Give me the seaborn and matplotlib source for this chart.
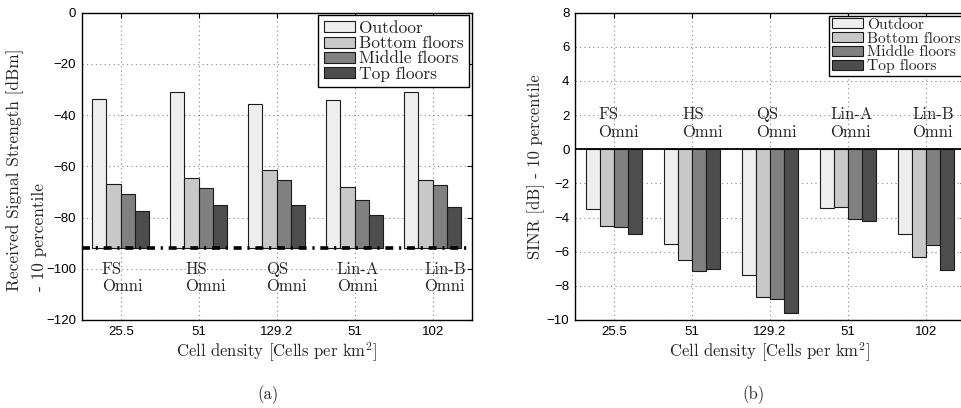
import numpy as np
import pandas as pd
import matplotlib
matplotlib.use("Agg")
import matplotlib.pyplot as plt
import seaborn as sns

# ---- data -------------------------------------------------------------
sites = ["FS", "HS", "QS", "Lin-A", "Lin-B"]
density_labels = ["25.5", "51", "129.2", "51", "102"]
environments = ["Outdoor", "Bottom floors", "Middle floors", "Top floors"]

# Received signal strength, 10th percentile [dBm]
rss_outdoor = [-33.7, -31.1, -35.5, -34.2, -31.1]
rss_bottom = [-67.0, -64.7, -61.6, -68.1, -65.5]
rss_middle = [-70.9, -68.5, -65.3, -73.1, -67.4]
rss_top = [-77.3, -75.2, -75.2, -78.9, -76.0]
rss_floor = -92.0  # reference level the bars rise from

# SINR, 10th percentile [dB]
sinr_outdoor = [-3.52, -5.57, -7.38, -3.46, -4.98]
sinr_bottom = [-4.49, -6.46, -8.67, -3.38, -6.33]
sinr_middle = [-4.53, -7.13, -8.75, -4.10, -5.61]
sinr_top = [-4.96, -7.01, -9.61, -4.22, -7.09]

# ---- styling ----------------------------------------------------------
sns.set_style("white")
plt.rcParams["font.family"] = ["Liberation Sans", "DejaVu Sans"]
plt.rcParams["mathtext.fontset"] = "cm"
SERIF = ["cmr10", "DejaVu Serif"]
palette = ["#eeeeee", "#c8c8c8", "#808080", "#4d4d4d"]


def long_frame(series):
    rows = []
    for env, vals in zip(environments, series):
        for s, v in zip(sites, vals):
            rows.append({"site": s, "env": env, "value": v})
    return pd.DataFrame(rows)


rss_df = long_frame([rss_outdoor, rss_bottom, rss_middle, rss_top])
sinr_df = long_frame([sinr_outdoor, sinr_bottom, sinr_middle, sinr_top])

fig = plt.figure(figsize=(9.61, 4.08), dpi=100)
ax_a = fig.add_axes([81.7 / 961, 88 / 408, 390 / 961, 307.3 / 408])
ax_b = fig.add_axes([575 / 961, 88 / 408, 390 / 961, 307.3 / 408])


def draw_panel(ax, df, ylim, yticks):
    sns.barplot(data=df, x="site", y="value", hue="env", order=sites,
                hue_order=environments, palette=palette, width=0.73,
                edgecolor="#1a1a1a", linewidth=0.8, errorbar=None,
                saturation=1, ax=ax)
    ax.set_xlim(-0.5, len(sites) - 0.5)
    ax.set_ylim(*ylim)
    ax.set_yticks(yticks)
    ax.set_xticks(range(len(sites)))
    ax.set_xticklabels(density_labels)
    ax.set_axisbelow(True)
    ax.grid(True, linestyle=(0, (1, 3)), color="#888888", linewidth=0.8)
    ax.tick_params(direction="in", length=3.5, width=0.8, top=True,
                   right=True, labelsize=9.5, pad=4, colors="black")
    for sp in ax.spines.values():
        sp.set_visible(True)
        sp.set_color("black")
        sp.set_linewidth(1.0)
    ax.set_xlabel("Cell density [Cells per km$^2$]", family=SERIF,
                  fontsize=12, labelpad=2)


legend_kw = dict(title=None, frameon=True, fancybox=False,
                 edgecolor="black", framealpha=1)

# ---- panel (a) --------------------------------------------------------
draw_panel(ax_a, rss_df, (-120, 0), np.arange(-120, 1, 20))
for cont, vals in zip(ax_a.containers,
                      [rss_outdoor, rss_bottom, rss_middle, rss_top]):
    for rect, v in zip(cont, vals):
        rect.set_y(rss_floor)
        rect.set_height(v - rss_floor)
ax_a.axhline(rss_floor, color="black", linewidth=2.6,
             linestyle=(0, (2.2, 1.6, 0.6, 1.6)), zorder=5)
ax_a.set_ylabel("Received Signal Strength [dBm]\n- 10 percentile",
                family=SERIF, fontsize=12.5, multialignment="left",
                linespacing=1.55)
ax_a.yaxis.set_label_coords(-0.09, 0.49)
label_off_a = [-0.244, -0.176, -0.141, -0.231, -0.111]
for i, (s, off) in enumerate(zip(sites, label_off_a)):
    ax_a.text(i + off, -103.5, f"{s}\nOmni", family=SERIF, fontsize=12,
              ha="left", va="center", linespacing=1.2)
sns.move_legend(ax_a, "upper right", borderaxespad=0.15, borderpad=0.3,
                labelspacing=0.0, prop={"family": SERIF, "size": 12.5},
                handlelength=1.8, handleheight=0.6, handletextpad=0.25,
                **legend_kw)
ax_a.get_legend().get_frame().set_linewidth(1.0)

# ---- panel (b) --------------------------------------------------------
draw_panel(ax_b, sinr_df, (-10, 8), np.arange(-10, 9, 2))
ax_b.axhline(0, color="black", linewidth=1.3, zorder=5)
ax_b.set_ylabel("SINR [dB] - 10 percentile", family=SERIF, fontsize=12,
                labelpad=1)
label_off_b = [-0.201, -0.124, -0.183, -0.231, -0.176]
for i, (s, off) in enumerate(zip(sites, label_off_b)):
    ax_b.text(i + off, 1.5, f"{s}\nOmni", family=SERIF, fontsize=12,
              ha="left", va="center", linespacing=1.2)
sns.move_legend(ax_b, "upper right", bbox_to_anchor=(0.995, 0.99),
                borderaxespad=0.0, borderpad=0.15, labelspacing=0.0,
                prop={"family": SERIF, "size": 11.2},
                handlelength=2.0, handleheight=0.6, handletextpad=0.3,
                **legend_kw)
ax_b.get_legend().get_frame().set_linewidth(1.0)

fig.text(268 / 961, 1 - 395 / 408, "(a)", family=SERIF, fontsize=12,
         ha="center", va="center")
fig.text(753 / 961, 1 - 395 / 408, "(b)", family=SERIF, fontsize=12,
         ha="center", va="center")

fig.savefig("out.png", dpi=100)
